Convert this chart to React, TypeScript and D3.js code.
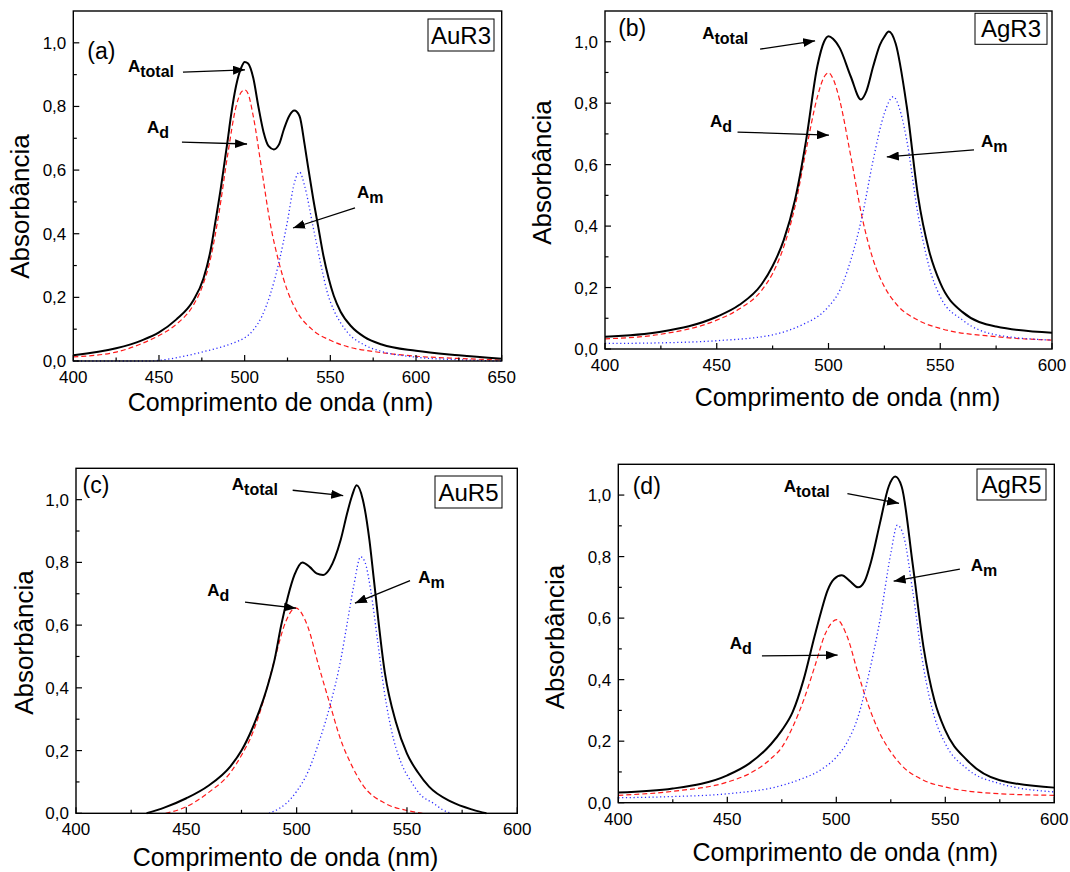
import React from "react";
import * as d3 from "d3";

type Pt = [number, number];

// ---------- Data (wavelength nm, absorbance) ----------
// (a) AuR3
const auR3Total: Pt[] = [[400,0.018],[425,0.040],[440,0.065],[450,0.09],[460,0.13],[470,0.19],[476,0.26],[480,0.345],[483,0.44],[486,0.54],[488,0.615],[490,0.69],[492,0.77],[495,0.865],[498,0.922],[500,0.94],[502,0.935],[505,0.89],[508,0.80],[511,0.72],[514,0.675],[517,0.665],[520,0.68],[523,0.73],[526,0.77],[529,0.787],[532,0.77],[535,0.68],[537,0.61],[540,0.51],[543,0.42],[546,0.33],[549,0.26],[552,0.205],[556,0.155],[562,0.11],[570,0.075],[580,0.052],[600,0.032],[625,0.018],[650,0.007]];
const auR3Ad: Pt[] = [[400,0.013],[425,0.028],[440,0.055],[450,0.08],[460,0.115],[470,0.175],[475,0.23],[480,0.32],[485,0.465],[490,0.645],[495,0.80],[498,0.845],[500,0.852],[502,0.84],[505,0.77],[510,0.60],[515,0.43],[520,0.31],[525,0.22],[530,0.16],[540,0.096],[550,0.065],[560,0.045],[575,0.03],[600,0.015],[625,0.008],[650,0.003]];
const auR3Am: Pt[] = [[400,0],[445,0],[450,0.002],[460,0.01],[475,0.028],[490,0.05],[495,0.06],[500,0.073],[505,0.097],[510,0.14],[515,0.21],[520,0.31],[525,0.44],[529,0.56],[532,0.594],[535,0.55],[540,0.42],[545,0.29],[548,0.22],[552,0.16],[556,0.12],[560,0.09],[570,0.05],[580,0.03],[600,0.012],[625,0.004],[650,0.0]];

// (b) AgR3
const agR3Total: Pt[] = [[400,0.040],[425,0.056],[450,0.105],[460,0.143],[470,0.21],[475,0.27],[480,0.355],[485,0.485],[490,0.68],[495,0.92],[498,1.0],[500,1.018],[502,1.01],[505,0.98],[510,0.886],[514.5,0.812],[517,0.84],[520,0.92],[523,0.99],[525,1.016],[527,1.033],[530,0.995],[535,0.79],[540,0.50],[545,0.32],[550,0.215],[560,0.12],[575,0.073],[600,0.053]];
const agR3Ad: Pt[] = [[400,0.033],[425,0.048],[450,0.094],[460,0.13],[470,0.19],[475,0.246],[480,0.333],[485,0.463],[490,0.648],[495,0.82],[498,0.885],[500,0.899],[502,0.88],[505,0.81],[510,0.626],[515,0.43],[520,0.29],[525,0.203],[530,0.149],[540,0.094],[550,0.067],[575,0.04],[600,0.029]];
const agR3Am: Pt[] = [[400,0.018],[425,0.02],[450,0.027],[475,0.046],[490,0.085],[495,0.105],[500,0.138],[505,0.19],[510,0.29],[515,0.43],[520,0.615],[525,0.767],[529,0.821],[532,0.777],[535,0.68],[540,0.44],[545,0.268],[550,0.17],[560,0.094],[575,0.046],[600,0.029]];

// (c) AuR5
const auR5Total: Pt[] = [[432,0],[440,0.018],[450,0.048],[460,0.088],[470,0.15],[475,0.20],[480,0.272],[485,0.365],[487,0.41],[490,0.49],[493,0.60],[496,0.69],[499,0.76],[502.6,0.80],[506,0.785],[509,0.765],[512,0.76],[515,0.78],[520,0.873],[523,0.96],[525,1.01],[527.2,1.046],[530,1.0],[533,0.87],[535,0.745],[540,0.447],[545,0.29],[550,0.19],[555,0.13],[560,0.085],[570,0.037],[580,0.011],[586,0]];
const auR5Ad: Pt[] = [[440.6,0],[450,0.021],[460,0.066],[470,0.13],[475,0.185],[480,0.255],[485,0.36],[490,0.49],[495,0.61],[499.5,0.655],[505,0.596],[510,0.47],[515,0.35],[520,0.234],[525,0.152],[530,0.09],[540,0.032],[550,0.009],[557,0]];
const auR5Am: Pt[] = [[487.5,0],[492,0.015],[495,0.03],[500,0.07],[505,0.13],[510,0.225],[515,0.34],[520,0.49],[523,0.61],[526,0.73],[529,0.818],[531,0.80],[533.5,0.714],[536.6,0.554],[539.6,0.394],[544,0.234],[548,0.15],[552,0.10],[556,0.06],[562,0.032],[566,0.012],[570,0]];

// (d) AgR5
const agR5Total: Pt[] = [[400,0.033],[425,0.046],[450,0.089],[460,0.127],[470,0.19],[475,0.235],[480,0.295],[485,0.40],[490,0.54],[493,0.62],[496,0.69],[499,0.727],[502.5,0.739],[506,0.722],[510,0.70],[513,0.72],[516,0.785],[520,0.908],[524,1.027],[527,1.06],[530,1.027],[535,0.778],[540,0.506],[545,0.333],[550,0.235],[560,0.138],[575,0.073],[600,0.049]];
const agR5Ad: Pt[] = [[400,0.024],[425,0.037],[450,0.067],[460,0.094],[470,0.143],[475,0.18],[480,0.246],[485,0.333],[490,0.44],[495,0.55],[500.2,0.595],[505,0.54],[510,0.42],[515,0.311],[520,0.225],[525,0.165],[530,0.121],[540,0.073],[550,0.051],[575,0.029],[600,0.024]];
const agR5Am: Pt[] = [[400,0.016],[425,0.02],[450,0.029],[475,0.056],[485,0.08],[490,0.095],[495,0.117],[500,0.148],[505,0.197],[510,0.28],[515,0.42],[520,0.593],[525,0.81],[528,0.902],[531,0.864],[535,0.69],[540,0.44],[545,0.279],[550,0.192],[560,0.11],[575,0.062],[600,0.035]];

// ---------- Ticks & labels ----------
const yMajor = [0, 0.2, 0.4, 0.6, 0.8, 1.0];
const yMinor = [0.1, 0.3, 0.5, 0.7, 0.9];
const xMajor650 = [400, 450, 500, 550, 600, 650];
const xMinor650 = [425, 475, 525, 575, 625];
const xMajor600 = [400, 450, 500, 550, 600];
const xMinor600 = [425, 475, 525, 575];
const xTitle = "Comprimento de onda (nm)";
const yTitle = "Absorbância";

// annotation: label + subscript, text anchor (data), arrow start (data), arrow tip (data)
type Note = { sub: string; t: Pt; from: Pt; to: Pt };

type PanelSpec = {
  left: number; right: number; top: number; bottom: number;
  xMax: number; xMajor: number[]; xMinor: number[];
  total: Pt[]; ad: Pt[]; am: Pt[];
  tag: string; tagAt: Pt;
  name: string; box: { x: number; y: number; w: number; h: number };
  yT: Pt; xT: Pt;
  notes: Note[];
};

const panels: PanelSpec[] = [
  {
    left: 73.3, right: 501.7, top: 11, bottom: 361, xMax: 650, xMajor: xMajor650, xMinor: xMinor650,
    total: auR3Total, ad: auR3Ad, am: auR3Am,
    tag: "(a)", tagAt: [408.2, 0.95], name: "AuR3", box: { x: 428, y: 19, w: 66, h: 32 },
    yT: [29, 206.5], xT: [280.5, 411],
    notes: [
      { sub: "total", t: [431.9, 0.908], from: [464.0, 0.908], to: [500.2, 0.915] },
      { sub: "d", t: [443.0, 0.717], from: [463.4, 0.688], to: [501.4, 0.682] },
      { sub: "m", t: [565.5, 0.512], from: [564.4, 0.481], to: [528.2, 0.418] },
    ],
  },
  {
    left: 605, right: 1052, top: 11, bottom: 349, xMax: 600, xMajor: xMajor600, xMinor: xMinor600,
    total: agR3Total, ad: agR3Ad, am: agR3Am,
    tag: "(b)", tagAt: [405.9, 1.018], name: "AgR3", box: { x: 975, y: 13.3, w: 72, h: 31 },
    yT: [550.8, 172.5], xT: [847.5, 406],
    notes: [
      { sub: "total", t: [443.5, 1.009], from: [469.4, 0.976], to: [494.0, 1.003] },
      { sub: "d", t: [447.0, 0.723], from: [459.3, 0.706], to: [500.2, 0.696] },
      { sub: "m", t: [568.2, 0.658], from: [565.1, 0.648], to: [526.1, 0.625] },
    ],
  },
  {
    left: 76, right: 517.3, top: 468.3, bottom: 813.3, xMax: 600, xMajor: xMajor600, xMinor: xMinor600,
    total: auR5Total, ad: auR5Ad, am: auR5Am,
    tag: "(c)", tagAt: [403.0, 1.021], name: "AuR5", box: { x: 435, y: 476, w: 67, h: 32 },
    yT: [33, 642.5], xT: [285.5, 866],
    notes: [
      { sub: "total", t: [470.6, 1.032], from: [498.2, 1.030], to: [521.1, 1.013] },
      { sub: "d", t: [459.5, 0.694], from: [476.6, 0.673], to: [499.7, 0.654] },
      { sub: "m", t: [555.1, 0.734], from: [551.4, 0.742], to: [526.4, 0.670] },
    ],
  },
  {
    left: 618.3, right: 1054.3, top: 464.3, bottom: 802.7, xMax: 600, xMajor: xMajor600, xMinor: xMinor600,
    total: agR5Total, ad: agR5Ad, am: agR5Am,
    tag: "(d)", tagAt: [406.6, 1.003], name: "AgR5", box: { x: 977, y: 469, w: 69, h: 31 },
    yT: [563.6, 637], xT: [845.3, 861],
    notes: [
      { sub: "total", t: [475.9, 1.011], from: [505.1, 1.005], to: [528.8, 0.973] },
      { sub: "d", t: [451.1, 0.50], from: [465.9, 0.477], to: [500.6, 0.48] },
      { sub: "m", t: [561.7, 0.752], from: [556.7, 0.759], to: [526.3, 0.72] },
    ],
  },
];

const FONT = "'Liberation Sans', Arial, Helvetica, sans-serif";
const fmt = (v: number) => v.toFixed(1).replace(".", ",");

function Panel({ p, idx }: { p: PanelSpec; idx: number }) {
  const x = d3.scaleLinear().domain([400, p.xMax]).range([p.left, p.right]);
  const y = d3.scaleLinear().domain([0, 1.1]).range([p.bottom, p.top]);
  const line = d3
    .line<Pt>()
    .x((d) => x(d[0]))
    .y((d) => y(d[1]))
    .curve(d3.curveMonotoneX);
  const mk = `arrow${idx}`;
  return (
    <g>
      <defs>
        <marker id={mk} markerUnits="userSpaceOnUse" markerWidth={13} markerHeight={9} refX={12} refY={4.5} orient="auto">
          <path d="M0,0 L12,4.5 L0,9 Z" fill="#000" />
        </marker>
      </defs>
      {/* curves */}
      <path d={line(p.ad) || ""} fill="none" stroke="#ff1a1a" strokeWidth={1.2} strokeDasharray="5,3" />
      <path d={line(p.am) || ""} fill="none" stroke="#2a2aff" strokeWidth={1.3} strokeDasharray="1.2,2.6" />
      <path d={line(p.total) || ""} fill="none" stroke="#000" strokeWidth={2} />
      {/* frame */}
      <rect x={p.left} y={p.top} width={p.right - p.left} height={p.bottom - p.top} fill="none" stroke="#000" strokeWidth={1.4} />
      {/* x ticks */}
      {p.xMajor.map((v) => (
        <g key={"xm" + v}>
          <line x1={x(v)} x2={x(v)} y1={p.bottom} y2={p.bottom - 6} stroke="#000" strokeWidth={1.2} />
          <text x={x(v)} y={p.bottom + 22} textAnchor="middle" fontSize={17} fontFamily={FONT} fill="#000">{v}</text>
        </g>
      ))}
      {p.xMinor.map((v) => (
        <line key={"xn" + v} x1={x(v)} x2={x(v)} y1={p.bottom} y2={p.bottom - 3.5} stroke="#000" strokeWidth={1.2} />
      ))}
      {/* y ticks */}
      {yMajor.map((v) => (
        <g key={"ym" + v}>
          <line x1={p.left} x2={p.left + 6} y1={y(v)} y2={y(v)} stroke="#000" strokeWidth={1.2} />
          <text x={p.left - 7} y={y(v) + 6} textAnchor="end" fontSize={17} fontFamily={FONT} fill="#000">{fmt(v)}</text>
        </g>
      ))}
      {yMinor.map((v) => (
        <line key={"yn" + v} x1={p.left} x2={p.left + 3.5} y1={y(v)} y2={y(v)} stroke="#000" strokeWidth={1.2} />
      ))}
      {/* axis titles */}
      <text x={p.xT[0]} y={p.xT[1]} textAnchor="middle" fontSize={25} fontFamily={FONT} fill="#000">{xTitle}</text>
      <text transform={`translate(${p.yT[0]},${p.yT[1]}) rotate(-90)`} textAnchor="middle" fontSize={26} fontFamily={FONT} fill="#000">{yTitle}</text>
      {/* tag */}
      <text x={x(p.tagAt[0])} y={y(p.tagAt[1])} fontSize={23} fontFamily={FONT} fill="#000">{p.tag}</text>
      {/* name box */}
      <rect x={p.box.x} y={p.box.y} width={p.box.w} height={p.box.h} fill="#fff" stroke="#000" strokeWidth={1} />
      <text x={p.box.x + p.box.w / 2} y={p.box.y + p.box.h / 2 + 8.5} textAnchor="middle" fontSize={24} fontFamily={FONT} fill="#000">{p.name}</text>
      {/* annotations */}
      {p.notes.map((n, i) => (
        <g key={"n" + i}>
          <text x={x(n.t[0])} y={y(n.t[1])} fontSize={17} fontWeight="bold" fontFamily={FONT} fill="#000">
            A<tspan dy={5} fontSize={16}>{n.sub}</tspan>
          </text>
          <line x1={x(n.from[0])} y1={y(n.from[1])} x2={x(n.to[0])} y2={y(n.to[1])} stroke="#000" strokeWidth={1.3} markerEnd={`url(#${mk})`} />
        </g>
      ))}
    </g>
  );
}

export default function App() {
  return (
    <svg width={1070} height={872} style={{ position: "absolute", left: 0, top: 0, background: "#fff" }}>
      <rect x={0} y={0} width={1070} height={872} fill="#fff" />
      {panels.map((p, i) => (
        <Panel key={i} p={p} idx={i} />
      ))}
    </svg>
  );
}
